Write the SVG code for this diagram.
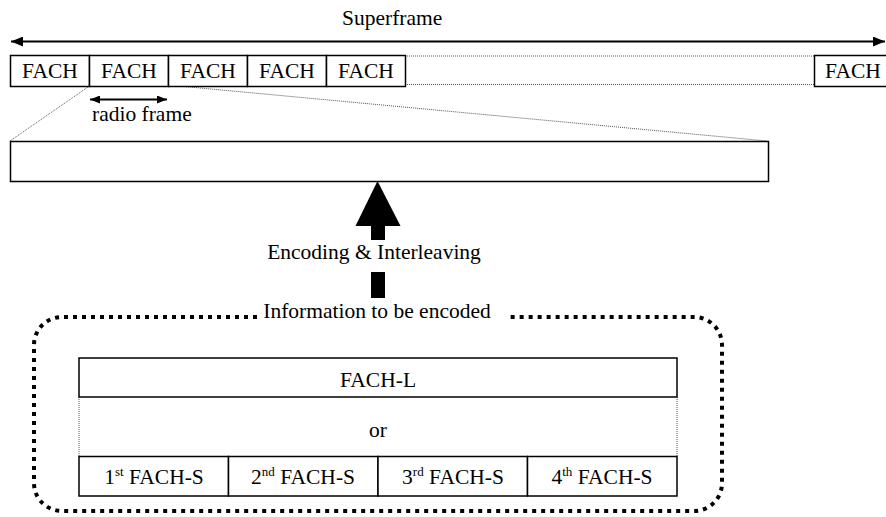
<svg xmlns="http://www.w3.org/2000/svg" width="886" height="517" viewBox="0 0 886 517">
<style>
text{font-family:"Liberation Serif","Times New Roman",serif;font-size:21.5px;fill:#000}
.box{fill:#fff;stroke:#000;stroke-width:1.5}
.dot{fill:none;stroke:#555;stroke-width:1;stroke-dasharray:1 1}
.ln{fill:none;stroke:#000;stroke-width:2}
.sup{font-size:13px}
</style>
<defs>
<marker id="ah" viewBox="0 0 12 10" refX="12" refY="5" markerWidth="12" markerHeight="10" markerUnits="userSpaceOnUse" orient="auto-start-reverse">
<path d="M0,0 L12,5 L0,10 Z" fill="#000"/>
</marker>
<marker id="ahs" viewBox="0 0 10 8" refX="10" refY="4" markerWidth="10" markerHeight="8" markerUnits="userSpaceOnUse" orient="auto-start-reverse">
<path d="M0,0 L10,4 L0,8 Z" fill="#000"/>
</marker>
</defs>
<rect width="886" height="517" fill="#fff"/>

<g id="connectors">
<line class="ln" x1="11" y1="41.5" x2="885" y2="41.5" marker-start="url(#ah)" marker-end="url(#ah)"/>
<line class="ln" x1="90" y1="99.5" x2="167" y2="99.5" stroke-width="1.8" marker-start="url(#ahs)" marker-end="url(#ahs)"/>
<line class="dot" x1="405" y1="56" x2="860" y2="56"/>
<line class="dot" x1="405" y1="84.5" x2="860" y2="84.5"/>
<line class="dot" x1="88" y1="87" x2="10" y2="141"/>
<line class="dot" x1="168" y1="85" x2="767" y2="141"/>
<line class="dot" x1="79" y1="397" x2="79" y2="456.5"/>
<line class="dot" x1="677" y1="397" x2="677" y2="456.5"/>
<polygon points="377.5,181 400.5,226 355.5,226" fill="#000"/>
<rect x="371" y="225" width="14" height="15" fill="#000"/>
<rect x="371" y="272" width="14" height="26" fill="#000"/>
</g>

<g id="superframe-label"><text x="342" y="25">Superframe</text></g>

<g id="fach-row">
<rect class="box" x="10.5" y="55.5" width="79" height="31"/>
<rect class="box" x="89.5" y="55.5" width="79" height="31"/>
<rect class="box" x="168.5" y="55.5" width="79" height="31"/>
<rect class="box" x="247.5" y="55.5" width="79" height="31"/>
<rect class="box" x="326.5" y="55.5" width="79" height="31"/>
<rect class="box" x="814.5" y="55.5" width="79" height="31"/>
<g text-anchor="middle">
<text x="50" y="77.5">FACH</text>
<text x="129" y="77.5">FACH</text>
<text x="208" y="77.5">FACH</text>
<text x="287" y="77.5">FACH</text>
<text x="366" y="77.5">FACH</text>
<text x="853" y="77.5">FACH</text>
</g>
</g>

<g id="radio-frame-label"><text x="92" y="121">radio frame</text></g>

<g id="frame-box"><rect class="box" x="10.5" y="141.5" width="758" height="40"/></g>

<g id="encoding-label"><text x="374" y="259" text-anchor="middle">Encoding &amp; Interleaving</text></g>

<g id="info-group">
<path d="M257,317 L62,317 A28,28 0 0 0 34,345 L34,483 A28,28 0 0 0 62,511 L694,511 A28,28 0 0 0 722,483 L722,345 A28,28 0 0 0 694,317 L506,317" fill="none" stroke="#000" stroke-width="4" stroke-dasharray="4 5"/>
<text x="377" y="318" text-anchor="middle">Information to be encoded</text>
</g>

<g id="fach-l">
<rect class="box" x="79" y="358" width="598" height="39"/>
<text x="378" y="387" text-anchor="middle">FACH-L</text>
</g>

<g id="or-label"><text x="378" y="437" text-anchor="middle">or</text></g>

<g id="fach-s">
<rect class="box" x="79" y="456.5" width="149.5" height="39.5"/>
<rect class="box" x="228.5" y="456.5" width="149.5" height="39.5"/>
<rect class="box" x="378" y="456.5" width="149.5" height="39.5"/>
<rect class="box" x="527.5" y="456.5" width="149.5" height="39.5"/>
<g text-anchor="middle">
<text x="154" y="484">1<tspan class="sup" dy="-8">st</tspan><tspan dy="8"> FACH-S</tspan></text>
<text x="303" y="484">2<tspan class="sup" dy="-8">nd</tspan><tspan dy="8"> FACH-S</tspan></text>
<text x="453" y="484">3<tspan class="sup" dy="-8">rd</tspan><tspan dy="8"> FACH-S</tspan></text>
<text x="602" y="484">4<tspan class="sup" dy="-8">th</tspan><tspan dy="8"> FACH-S</tspan></text>
</g>
</g>
</svg>
